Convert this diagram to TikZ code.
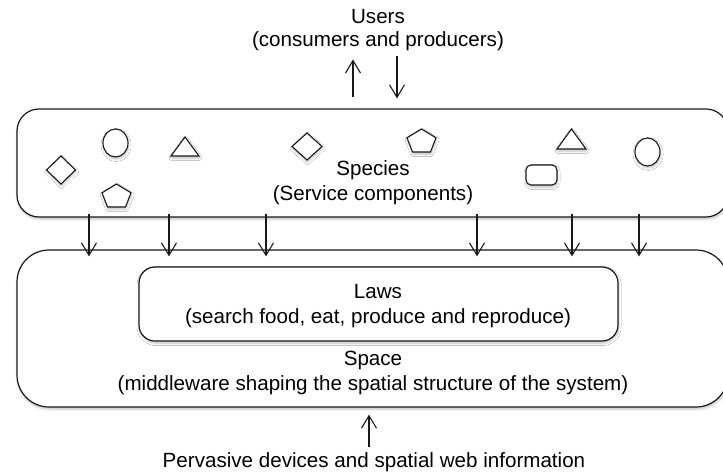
\documentclass[tikz,border=0pt]{standalone}
\usepackage{fontspec}
\setmainfont{Liberation Sans}
\usetikzlibrary{arrows.meta,calc,shadows.blur}
\begin{document}
\begin{tikzpicture}[x=1pt,y=-1pt,
  shad/.style={blur shadow={shadow xshift=0.6pt, shadow yshift=-2pt, shadow opacity=25, shadow blur steps=6, shadow blur radius=2.5pt}},
  box/.style={draw=black!90, line width=1.2pt, fill=white, inner sep=0pt, shad},
  shp/.style={draw=black!90, line width=1.1pt, fill=white, shad},
  lbl/.style={font=\fontsize{20.6}{24}\selectfont, anchor=base, inner sep=0pt, text=black},
  arr/.style={draw=black!90, line width=1.1pt, -{Straight Barb[length=12.5pt,width=15pt,line width=1.1pt]}}]
\useasboundingbox (0,0) rectangle (723,472);

% boxes
\node[box, rounded corners=32pt, minimum width=711pt, minimum height=157pt] (space) at (372.5,328.5) {};
\node[box, rounded corners=16pt, minimum width=479pt, minimum height=74pt] (laws) at (378.5,304) {};
\node[box, rounded corners=22pt, minimum width=711pt, minimum height=108pt] (species) at (372.5,163) {};

% labels
\node[lbl] (users1) at (378,23) {Users};
\node[lbl] (users2) at (378,46) {(consumers and producers)};
\node[lbl] (spec1) at (373,175) {Species};
\node[lbl] (spec2) at (373,200) {(Service components)};
\node[lbl] (laws1) at (378,298) {Laws};
\node[lbl] (laws2) at (378,323) {(search food, eat, produce and reproduce)};
\node[lbl] (space1) at (373,365) {Space};
\node[lbl] (space2) at (373,390) {(middleware shaping the spatial structure of the system)};
\node[lbl] (perv) at (374,467) {Pervasive devices and spatial web information};

% species shapes
\draw[shp] (61,156) -- (75.5,170) -- (61,184) -- (46.5,170) -- cycle;
\draw[shp] (115.5,143) ellipse [x radius=12.5pt, y radius=14pt];
\draw[shp] (171,156) -- (185,137) -- (199,156) -- cycle;
\draw[shp] (116.5,184) -- (131,192.8) -- (125.5,207) -- (107.5,207) -- (102,192.8) -- cycle;
\draw[shp] (307,133) -- (322,146.5) -- (307,160) -- (292,146.5) -- cycle;
\draw[shp] (421.5,129) -- (436,137.8) -- (430.5,152) -- (412.5,152) -- (407,137.8) -- cycle;
\draw[shp] (557,149) -- (571.5,129) -- (586,149) -- cycle;
\draw[shp, rounded corners=5pt] (526,165) rectangle (557,185);
\draw[shp] (647.5,152) ellipse [x radius=12.5pt, y radius=14pt];

% arrows species -> space
\foreach \x in {89,169,266,477,572,639}{
  \draw[arr] ($(species.south -| \x,0)+(0,-4)$) -- ($(space.north -| \x,0)+(0,7)$);
}

% users arrows
\draw[arr] ($(species.north -| 353,0)+(0,-11)$) -- ($(users2.south -| 353,0)+(0,9)$);
\draw[arr] ($(users2.south -| 397,0)+(0,6)$) -- ($(species.north -| 397,0)+(0,-10)$);

% pervasive arrow
\draw[arr] ($(perv.north -| 369,0)+(0,-5)$) -- ($(space.south -| 369,0)+(0,7)$);
\end{tikzpicture}
\end{document}
